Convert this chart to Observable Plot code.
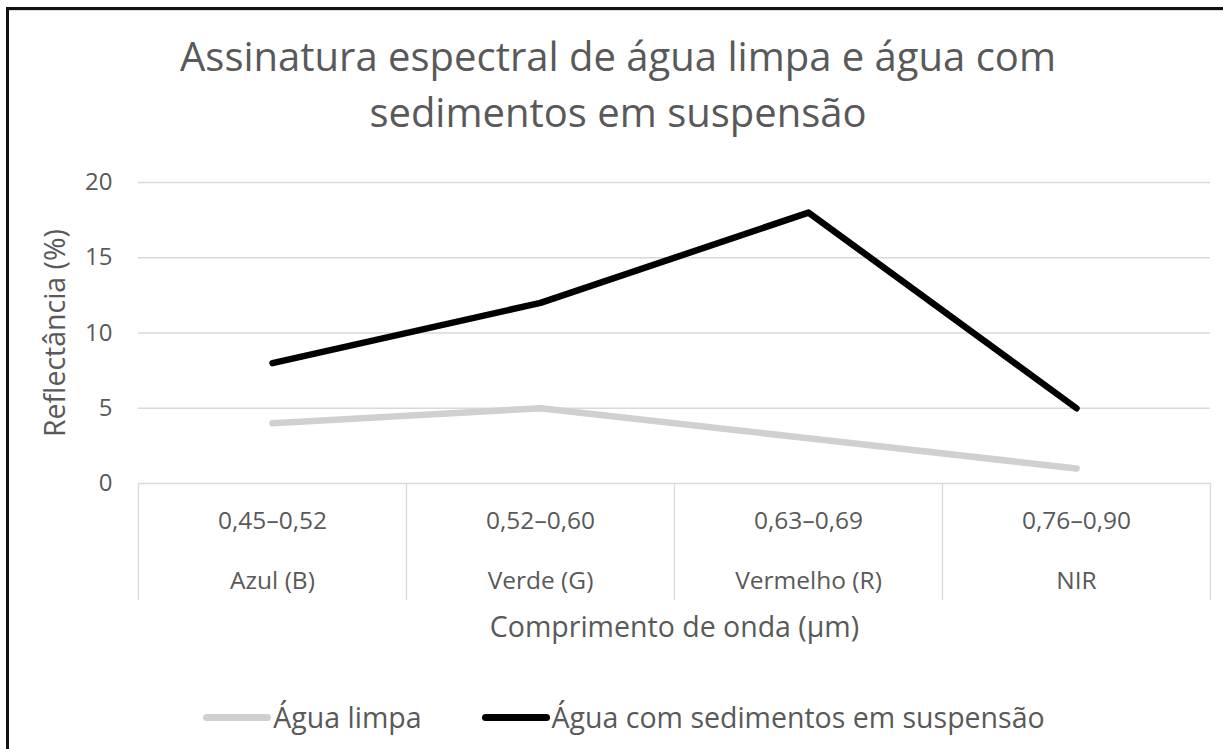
<!DOCTYPE html>
<html>
<head>
<meta charset="utf-8">
<script src="https://cdn.jsdelivr.net/npm/d3@7"></script>
<script src="https://cdn.jsdelivr.net/npm/@observablehq/plot@0.6"></script>
<style>
  html, body { margin: 0; padding: 0; background: #fff; }
  body { width: 1223px; height: 749px; position: relative; overflow: hidden; font-family: "Open Sans", sans-serif; }
  #frame { position: absolute; left: 6px; top: 7px; width: 1230px; height: 760px; border-top: 3px solid #111; border-left: 3px solid #111; }
  #frame::after { content: ""; position: absolute; left: 0; top: 0; right: 0; height: 1px; background: #d9d9d9; }
  #title { position: absolute; left: 7px; width: 1222px; top: 28px; text-align: center; color: #595959; font-size: 40px; line-height: 56px; }
  #chart { position: absolute; left: 0; top: 150px; }
  #legend { position: absolute; left: 0; width: 1248px; top: 698px; display: flex; justify-content: center; align-items: center; color: #595959; font-size: 28.5px; }
  .sw { display: inline-block; width: 68px; height: 7px; border-radius: 3.5px; margin-right: 2px; }
  .item { display: flex; align-items: center; margin: 0 30px; }
</style>
</head>
<body>
<div id="frame"></div>
<div id="title">Assinatura espectral de água limpa e água com<br>sedimentos em suspensão</div>
<div id="chart"></div>
<div id="legend"></div>
<script>
const bands = ["Azul (B)", "Verde (G)", "Vermelho (R)", "NIR"];
const ranges = ["0,45–0,52", "0,52–0,60", "0,63–0,69", "0,76–0,90"];
const aguaLimpa = [4, 5, 3, 1];
const aguaSedimentos = [8, 12, 18, 5];
const seriesNames = ["Água limpa", "Água com sedimentos em suspensão"];
const seriesColors = ["#d0d0d0", "#000000"];
const yTicks = [0, 5, 10, 15, 20];
const yLabel = "Reflectância (%)";
const xLabel = "Comprimento de onda (µm)";

const rows = [];
bands.forEach((b, i) => {
  rows.push({band: b, idx: i + 0.5, value: aguaLimpa[i], series: seriesNames[0]});
});
bands.forEach((b, i) => {
  rows.push({band: b, idx: i + 0.5, value: aguaSedimentos[i], series: seriesNames[1]});
});
const centers = bands.map((b, i) => i + 0.5);
const bounds = d3.range(bands.length + 1);

const txt = "#595959";
const chart = Plot.plot({
  width: 1223,
  height: 500,
  marginTop: 32,
  marginBottom: 167,
  marginLeft: 138,
  marginRight: 13,
  style: {fontFamily: "Open Sans, sans-serif", color: txt, background: "transparent"},
  x: {type: "linear", domain: [0, bands.length], axis: null},
  y: {domain: [0, 20], axis: null},
  color: {domain: seriesNames, range: seriesColors},
  marks: [
    Plot.gridY(yTicks, {stroke: "#d9d9d9", strokeOpacity: 1, strokeWidth: 1.3}),
    Plot.axisY(yTicks, {tickSize: 0, tickPadding: 26, fontSize: 24, fill: txt, label: null}),
    Plot.axisX(bounds, {tickSize: 117, stroke: "#d9d9d9", strokeOpacity: 1, strokeWidth: 1.3, tickFormat: () => "", label: null}),
    Plot.axisX(centers, {tickSize: 0, tickPadding: 28, fontSize: 24.5, fill: txt, tickFormat: (d) => ranges[Math.floor(d)], label: null}),
    Plot.axisX(centers, {tickSize: 0, tickPadding: 88, fontSize: 24.5, fill: txt, tickFormat: (d) => bands[Math.floor(d)], label: null}),
    Plot.text([xLabel], {frameAnchor: "bottom", dy: 153, fontSize: 28.5, fill: txt}),
    Plot.text([yLabel], {frameAnchor: "left", textAnchor: "middle", rotate: -90, dx: -83, fontSize: 28.5, fill: txt}),
    Plot.line(rows, {x: "idx", y: "value", z: "series", stroke: "series", strokeWidth: 6.5, strokeLinecap: "round", strokeLinejoin: "round"})
  ]
});
document.getElementById("chart").appendChild(chart);

const legend = document.getElementById("legend");
seriesNames.forEach((n, i) => {
  const it = document.createElement("span");
  it.className = "item";
  const sw = document.createElement("span");
  sw.className = "sw";
  sw.style.background = seriesColors[i];
  it.appendChild(sw);
  it.appendChild(document.createTextNode(n));
  legend.appendChild(it);
});
</script>
</body>
</html>
